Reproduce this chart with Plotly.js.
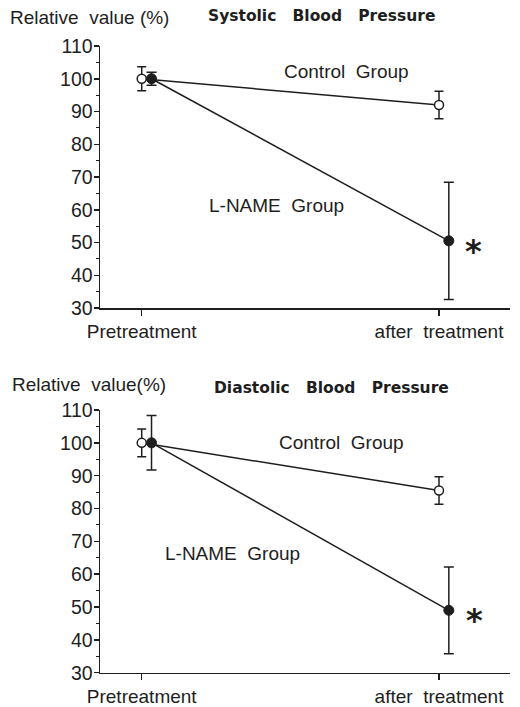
<!DOCTYPE html>
<html>
<head>
<meta charset="utf-8">
<script src="https://cdn.plot.ly/plotly-3.0.1.min.js"></script>
<style>
  html, body { margin: 0; padding: 0; background: #ffffff; }
  #chart { width: 520px; height: 707px; }
</style>
</head>
<body>
<div id="chart"></div>
<script>
// ---- data ----
const categories = ['Pretreatment', 'after  treatment'];
const yTickVals = [30, 40, 50, 60, 70, 80, 90, 100, 110];

const sysControl    = [100, 92];
const sysControlErr = [3.7, 4.2];
const sysLname      = [100, 50.5];
const sysLnameErr   = [2.0, 17.9];

const diaControl    = [100, 85.5];
const diaControlErr = [4.2, 4.2];
const diaLname      = [100, 49];
const diaLnameErr   = [8.3, 13.2];

// ---- styling ----
const INK = '#1e1e1e';
const FONT = 'Liberation Sans, Arial, sans-serif';
const BOLD = 'DejaVu Sans, sans-serif';
const W = 520, H = 707;
const px = v => v / W;
const py = v => 1 - v / H;
const lnameOffset = 0.033;
const xCtrl = categories.map((c, i) => i);
const xLname = categories.map((c, i) => i + lnameOffset);

function controlTrace(y, err, xa, ya) {
  return {
    x: xCtrl, y: y, xaxis: xa, yaxis: ya, type: 'scatter', mode: 'lines+markers',
    line: {color: INK, width: 1.5},
    marker: {symbol: 'circle', size: 9, color: '#ffffff', line: {color: INK, width: 1.5}},
    error_y: {type: 'data', array: err, visible: true, color: INK, thickness: 1.5, width: 4.5},
    showlegend: false, hoverinfo: 'skip'
  };
}
function lnameTrace(y, err, xa, ya) {
  return {
    x: xLname, y: y, xaxis: xa, yaxis: ya, type: 'scatter', mode: 'lines+markers',
    line: {color: INK, width: 1.5},
    marker: {symbol: 'circle', size: 10, color: INK, line: {color: INK, width: 1}},
    error_y: {type: 'data', array: err, visible: true, color: INK, thickness: 1.5, width: 5},
    showlegend: false, hoverinfo: 'skip'
  };
}

const data = [
  controlTrace(sysControl, sysControlErr, 'x', 'y'),
  lnameTrace(sysLname, sysLnameErr, 'x', 'y'),
  controlTrace(diaControl, diaControlErr, 'x2', 'y2'),
  lnameTrace(diaLname, diaLnameErr, 'x2', 'y2')
];

const xRange = [-0.1403, 1.2388];
function xAxis(anchor) {
  return {
    domain: [px(100), px(510)], range: xRange, anchor: anchor,
    tickvals: xCtrl, ticktext: categories,
    ticks: 'outside', ticklen: 6, tickwidth: 1.5, tickcolor: INK,
    showline: true, linewidth: 1.5, linecolor: INK,
    showgrid: false, zeroline: false, fixedrange: true,
    tickfont: {family: FONT, size: 19, color: INK}
  };
}
function yAxis(anchor, top, bottom) {
  return {
    domain: [py(bottom), py(top)], range: [30, 110], anchor: anchor,
    tickvals: yTickVals,
    ticks: 'outside', ticklen: 5, tickwidth: 1.5, tickcolor: INK,
    ticklabelstandoff: -3,
    minor: {dtick: 5, ticks: 'outside', ticklen: 3, tickwidth: 1, tickcolor: INK, showgrid: false},
    showline: true, linewidth: 1.5, linecolor: INK,
    showgrid: false, zeroline: false, fixedrange: true,
    tickfont: {family: FONT, size: 19.5, color: INK}
  };
}

function paperText(text, x, y, xanchor, font) {
  return {text: text, xref: 'paper', yref: 'paper', x: px(x), y: py(y),
          xanchor: xanchor, yanchor: 'middle', showarrow: false, font: font};
}
function dataText(text, x, y, xa, ya, xanchor, font, yshift) {
  return {text: text, xref: xa, yref: ya, x: x, y: y, xanchor: xanchor, yanchor: 'middle',
          showarrow: false, font: font, yshift: yshift || 0};
}
const labelFont = {family: FONT, size: 19, color: INK};
const titleFont = {family: BOLD, size: 15.5, color: INK, weight: 'bold'};
const starFont = {family: BOLD, size: 32, color: INK, weight: 'bold'};

const layout = {
  width: W, height: H,
  margin: {l: 0, r: 0, t: 0, b: 0},
  paper_bgcolor: '#ffffff', plot_bgcolor: '#ffffff',
  showlegend: false,
  xaxis: xAxis('y'),
  yaxis: yAxis('x', 46, 308),
  xaxis2: xAxis('y2'),
  yaxis2: yAxis('x2', 410, 672.7),
  annotations: [
    paperText('Relative  value (%)', 8, 17, 'left', labelFont),
    paperText('Systolic   Blood   Pressure', 206, 16, 'left', titleFont),
    dataText('Control  Group', 0.69, 102.1, 'x', 'y', 'center', labelFont),
    dataText('L-NAME  Group', 0.218, 61.3, 'x', 'y', 'left', labelFont),
    dataText('*', 1.115, 50.5, 'x', 'y', 'center', starFont, -10),

    paperText('Relative  value(%)', 10, 384, 'left', labelFont),
    paperText('Diastolic   Blood   Pressure', 212, 388, 'left', titleFont),
    dataText('Control  Group', 0.672, 100, 'x2', 'y2', 'center', labelFont),
    dataText('L-NAME  Group', 0.072, 66.3, 'x2', 'y2', 'left', labelFont),
    dataText('*', 1.12, 49, 'x2', 'y2', 'center', starFont, -10)
  ]
};

Plotly.newPlot('chart', data, layout, {displayModeBar: false, staticPlot: true});
</script>
</body>
</html>
